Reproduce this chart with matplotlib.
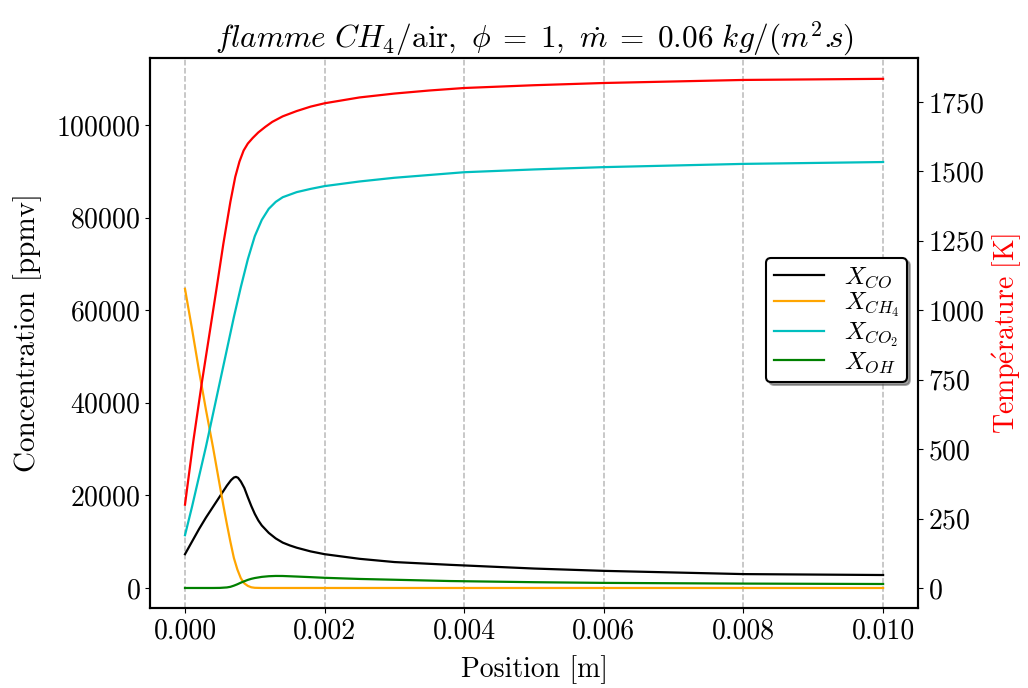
import numpy as np
import matplotlib
matplotlib.use("Agg")
import matplotlib.pyplot as plt

plt.rcParams['font.family'] = 'serif'
plt.rcParams['font.serif'] = ['cmr10']
plt.rcParams['mathtext.fontset'] = 'cm'
plt.rcParams['axes.formatter.use_mathtext'] = True
plt.rcParams['font.size'] = 18

# position [m] and values
x_co = [0.0, 0.0001, 0.0002, 0.0003, 0.0004, 0.0005, 0.0006, 0.00066, 0.0007, 0.00073,
        0.00076, 0.0008, 0.00085, 0.0009, 0.00095, 0.001, 0.00105, 0.0011, 0.0012,
        0.0013, 0.0014, 0.0015, 0.0016, 0.0018, 0.002, 0.0025, 0.003, 0.0038, 0.005,
        0.006, 0.008, 0.010]
co = [7300, 10000, 12700, 15200, 17500, 19800, 22100, 23300, 23850, 24000,
      23800, 23000, 21600, 19600, 17700, 16000, 14600, 13500, 11900,
      10700, 9800, 9200, 8700, 7900, 7300, 6300, 5600, 5000, 4200,
      3700, 3000, 2800]

x_ch4 = [0.0, 0.0001, 0.0002, 0.0003, 0.0004, 0.0005, 0.00055, 0.0006, 0.00065, 0.0007,
         0.00075, 0.0008, 0.00085, 0.0009, 0.00095, 0.001, 0.0011, 0.0015, 0.010]
ch4 = [64600, 56000, 47000, 38500, 30500, 22000, 17800, 13800, 10000, 6500,
       4000, 2100, 1000, 450, 150, 40, 0, 0, 0]

x_co2 = [0.0, 0.0001, 0.0002, 0.0003, 0.0004, 0.0005, 0.0006, 0.0007, 0.0008, 0.0009,
         0.001, 0.0011, 0.0012, 0.0013, 0.0014, 0.0016, 0.0018, 0.002, 0.0025, 0.003,
         0.004, 0.005, 0.006, 0.008, 0.010]
co2 = [11400, 17500, 24000, 30500, 37500, 44500, 51500, 58500, 65000, 71000,
       76000, 79500, 81900, 83400, 84400, 85500, 86200, 86800, 87800, 88600,
       89800, 90400, 90900, 91600, 92000]

x_oh = [0.0, 0.0004, 0.0005, 0.0006, 0.00065, 0.0007, 0.00075, 0.0008, 0.00085, 0.0009,
        0.00095, 0.001, 0.0011, 0.0012, 0.0013, 0.0014, 0.0016, 0.0018, 0.002, 0.0025,
        0.003, 0.0038, 0.005, 0.006, 0.008, 0.010]
oh = [0, 0, 20, 120, 250, 500, 800, 1150, 1450, 1750,
      1980, 2150, 2400, 2540, 2600, 2590, 2470, 2340, 2200, 1950,
      1780, 1500, 1250, 1100, 950, 860]

x_t = [0.0, 0.00012, 0.00024, 0.00036, 0.00045, 0.00055, 0.00065, 0.00072, 0.00078,
       0.00084, 0.0009, 0.00097, 0.00105, 0.00115, 0.00125, 0.0014, 0.0016, 0.0018,
       0.002, 0.0025, 0.003, 0.0035, 0.004, 0.005, 0.006, 0.008, 0.010]
temp = [300, 530, 737, 930, 1075, 1240, 1390, 1480, 1535,
        1575, 1600, 1620, 1640, 1660, 1678, 1698, 1717, 1733,
        1745, 1766, 1780, 1791, 1800, 1810, 1818, 1829, 1833]

fig = plt.figure(figsize=(10.28, 6.88), dpi=100)
ax1 = fig.add_axes([0.146, 0.1163, 0.747, 0.7994])
ax2 = ax1.twinx()

l1, = ax1.plot(x_co, co, color='black', lw=1.6, label=r'$X_{CO}$')
l2, = ax1.plot(x_ch4, ch4, color='orange', lw=1.6, label=r'$X_{CH_4}$')
l3, = ax1.plot(x_co2, co2, color='c', lw=1.6, label=r'$X_{CO_2}$')
l4, = ax1.plot(x_oh, oh, color='green', lw=1.6, label=r'$X_{OH}$')
ax2.plot(x_t, temp, color='red', lw=1.6)

ax1.set_ylim(-4320, 114470)
ax2.set_ylim(-72, 1908)
ax1.set_yticks(np.arange(0, 100001, 20000))
ax2.set_yticks(np.arange(0, 1751, 250))
ax1.set_xticks(np.arange(0, 0.0101, 0.002))
ax1.xaxis.set_major_formatter(matplotlib.ticker.FormatStrFormatter('%.3f'))
ax1.grid(axis='x', ls='--', color='gray', alpha=0.55, lw=1.1)
ax1.tick_params(labelsize=20)
ax2.tick_params(labelsize=20)

for ax in (ax1, ax2):
    for s in ax.spines.values():
        s.set_linewidth(1.5)

ax1.set_xlabel(r'Position [m]', fontsize=20, labelpad=8)
ax1.set_ylabel(r'Concentration [ppmv]', fontsize=21, labelpad=10)
ax2.set_ylabel(r'$\mathrm{Temp\acute{e}rature\ [K]}$', color='red', fontsize=20, labelpad=4)
ax1.set_title(r'$flamme\ CH_4/\mathrm{air},\ \phi\;=\;1,\ \dot{m}\;=\;0.06\ kg/(m^2.\!\!s)$',
              fontsize=22.5)

leg = ax2.legend(handles=[l1, l2, l3, l4], loc='center right',
                 bbox_to_anchor=(0.9857, 0.5236), borderaxespad=0,
                 shadow=True, fancybox=True, framealpha=1, edgecolor='black',
                 fontsize=18, labelspacing=0.05, borderpad=0.3)
leg.get_frame().set_linewidth(1.5)

fig.savefig('out.png', dpi=100)
